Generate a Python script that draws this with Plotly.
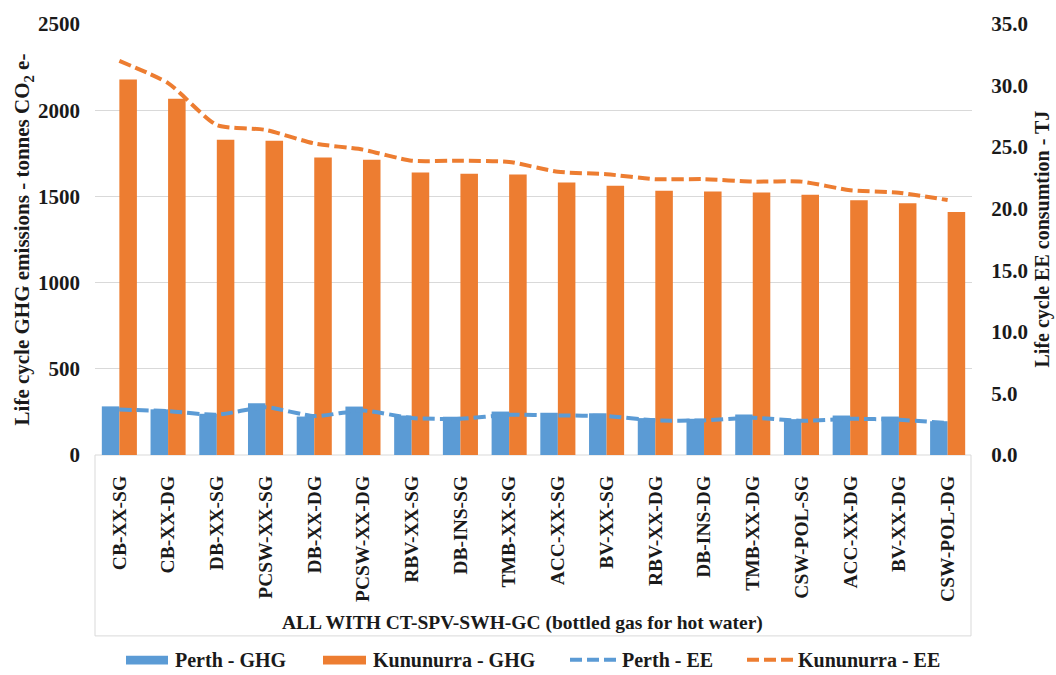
import plotly.graph_objects as go

categories = ["CB-XX-SG", "CB-XX-DG", "DB-XX-SG", "PCSW-XX-SG", "DB-XX-DG", "PCSW-XX-DG",
              "RBV-XX-SG", "DB-INS-SG", "TMB-XX-SG", "ACC-XX-SG", "BV-XX-SG", "RBV-XX-DG",
              "DB-INS-DG", "TMB-XX-DG", "CSW-POL-SG", "ACC-XX-DG", "BV-XX-DG", "CSW-POL-DG"]

perth_ghg = [282, 265, 239, 300, 223, 281, 229, 222, 252, 245, 242, 214, 210, 235, 208, 229, 223, 196]
kununurra_ghg = [2178, 2067, 1829, 1823, 1726, 1713, 1638, 1632, 1627, 1581, 1562, 1533,
                 1529, 1523, 1510, 1478, 1460, 1409]
perth_ee = [3.69, 3.56, 3.27, 3.88, 3.16, 3.61, 3.00, 2.94, 3.27, 3.21, 3.16, 2.81,
            2.81, 3.02, 2.78, 2.94, 2.86, 2.59]
kununurra_ee = [32.0, 30.2, 26.8, 26.4, 25.3, 24.8, 23.9, 23.9, 23.8, 23.0, 22.8, 22.4,
                22.4, 22.2, 22.2, 21.5, 21.3, 20.7]

left_ticks = [0, 500, 1000, 1500, 2000, 2500]
right_ticks = [0, 5, 10, 15, 20, 25, 30, 35]

series_names = ["Perth - GHG", "Kununurra - GHG", "Perth - EE", "Kununurra - EE"]

BLUE = "#5b9bd5"
ORANGE = "#ed7d31"
FONT = "Liberation Serif"
TXT = "#1a1a1a"
DASH = "12px,5px"

W, H = 1056, 675
ML, MR, MT, MB = 95, 84, 19, 220
PW = W - ML - MR
PH = H - MT - MB


def bold(size):
    return dict(family=FONT, size=size, color=TXT, weight="bold")


def px_x(x):
    """horizontal pixel -> paper fraction"""
    return (x - ML) / PW


def px_y(y):
    """vertical pixel (from top) -> paper fraction"""
    return (H - MB - y) / PH


fig = go.Figure()
fig.add_trace(go.Bar(x=categories, y=perth_ghg, name=series_names[0], marker_color=BLUE,
                     marker_line_width=0))
fig.add_trace(go.Bar(x=categories, y=kununurra_ghg, name=series_names[1], marker_color=ORANGE,
                     marker_line_width=0))
fig.add_trace(go.Scatter(x=categories, y=perth_ee, name=series_names[2], yaxis="y2", mode="lines",
                         line=dict(color=BLUE, width=4, dash=DASH, shape="spline", smoothing=0.6)))
fig.add_trace(go.Scatter(x=categories, y=kununurra_ee, name=series_names[3], yaxis="y2",
                         mode="lines",
                         line=dict(color=ORANGE, width=4, dash=DASH, shape="spline", smoothing=0.6)))

fig.update_layout(
    width=W, height=H,
    margin=dict(l=ML, r=MR, t=MT, b=MB),
    paper_bgcolor="white", plot_bgcolor="white",
    font=bold(20),
    barmode="group", bargap=0.28, bargroupgap=0,
    showlegend=False,
    xaxis=dict(
        type="category", tickangle=-90, showgrid=False, showline=False, ticks="",
        tickfont=bold(19.5), ticklabelstandoff=16,
    ),
    yaxis=dict(
        range=[0, 2500], tickvals=left_ticks, showgrid=True, gridcolor="#d9d9d9", gridwidth=1,
        zeroline=False, showline=False, ticks="",
        tickfont=bold(21), ticklabelstandoff=14,
        title=dict(text="Life cycle GHG emissions - tonnes CO<sub>2</sub> e-",
                   font=bold(21), standoff=2),
    ),
    yaxis2=dict(
        range=[0, 35], tickvals=right_ticks, tickformat=".1f", overlaying="y", side="right",
        showgrid=False, zeroline=False, showline=False,
        ticks="outside", ticklen=14, tickcolor="rgba(0,0,0,0)",
        tickfont=bold(21),
    ),
)

# right-hand axis title
fig.add_annotation(text="Life cycle EE consumtion - TJ", xref="paper", yref="paper",
                   x=px_x(1042), y=0.5, xanchor="center", yanchor="middle", textangle=-90,
                   showarrow=False, font=bold(20))

# frame around the category axis area
fig.add_shape(type="rect", xref="paper", yref="paper", x0=0, x1=px_x(971), y0=0, y1=px_y(638),
              line=dict(color="#d9d9d9", width=1), fillcolor="rgba(0,0,0,0)", layer="below")

fig.add_annotation(text="ALL WITH CT-SPV-SWH-GC (bottled gas for hot water)",
                   xref="paper", yref="paper", x=px_x(522), y=px_y(625),
                   xanchor="center", yanchor="middle", showarrow=False, font=bold(19.5))

# legend row below the axis frame
leg_y = px_y(662)
legend_items = [
    ("rect", BLUE, 126, 168, 174),
    ("rect", ORANGE, 323, 366, 372),
    ("line", BLUE, 570, 617, 621),
    ("line", ORANGE, 747, 793, 797),
]
for name, (kind, color, x0, x1, xt) in zip(series_names, legend_items):
    if kind == "rect":
        fig.add_shape(type="rect", xref="paper", yref="paper", x0=px_x(x0), x1=px_x(x1),
                      y0=px_y(658), y1=px_y(667), fillcolor=color, line=dict(width=0))
    else:
        fig.add_shape(type="line", xref="paper", yref="paper", x0=px_x(x0), x1=px_x(x1),
                      y0=leg_y, y1=leg_y, line=dict(color=color, width=4, dash=DASH))
    fig.add_annotation(text=name, xref="paper", yref="paper", x=px_x(xt), y=leg_y,
                       xanchor="left", yanchor="middle", showarrow=False, font=bold(20),
                       borderpad=0)

# pin the figure to the top-left corner of the page
pin = ("document.body.style.margin='0';"
       "var d=document.getElementById('{plot_id}');"
       "d.style.position='fixed';d.style.top='0';d.style.left='0';")
fig.write_html("out.html", post_script=pin)
